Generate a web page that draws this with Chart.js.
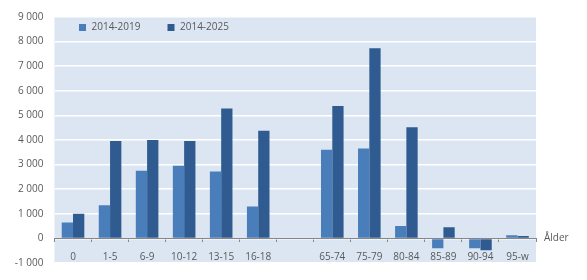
<!DOCTYPE html>
<html>
<head>
<meta charset="utf-8">
<script src="https://cdn.jsdelivr.net/npm/chart.js@4/dist/chart.umd.min.js"></script>
<style>
html,body{margin:0;padding:0;background:#fff;}
#wrap{width:587px;height:280px;position:relative;}
</style>
</head>
<body>
<div id="wrap"><canvas id="c" width="587" height="280"></canvas></div>
<script>
const categories = ['0','1-5','6-9','10-12','13-15','16-18','','65-74','75-79','80-84','85-89','90-94','95-w'];
const series2019 = [650,1350,2750,2950,2720,1300,null,3600,3650,500,-400,-400,130];
const series2025 = [1000,3960,4000,3960,5280,4380,null,5380,7730,4520,450,-480,100];
const seriesNames = ['2014-2019','2014-2025'];
const yTicks = [-1000,0,1000,2000,3000,4000,5000,6000,7000,8000,9000];
const axisTitle = 'Ålder';

const FONT = "'Open Sans', 'DejaVu Sans', sans-serif";
const TXT = '#595959';

function fmt(v){
  const s = Math.abs(v).toString().replace(/\B(?=(\d{3})+(?!\d))/g,' ');
  return (v<0?'-':'') + s;
}

const bgPlugin = {
  id:'plotBg',
  beforeDraw(chart){
    const {ctx, chartArea:a} = chart;
    ctx.save();
    ctx.fillStyle = '#dce6f2';
    ctx.fillRect(a.left, a.top, a.right-a.left, a.bottom-a.top);
    ctx.restore();
  },
  afterDraw(chart){
    const {ctx, chartArea:a} = chart;
    const y = chart.scales.y.getPixelForValue(0);
    ctx.save();
    ctx.fillStyle = TXT;
    ctx.font = '10px ' + FONT;
    ctx.textAlign = 'left';
    ctx.textBaseline = 'middle';
    ctx.fillText(axisTitle, a.right + 8, y);
    // inside legend
    let x = a.left + 24.5;
    const cy = a.top + 10.5;
    chart.data.datasets.forEach((ds) => {
      ctx.fillStyle = ds.backgroundColor;
      ctx.fillRect(x, cy - 3.5, 7, 7);
      ctx.fillStyle = TXT;
      ctx.fillText(ds.label, x + 12.5, cy);
      x += 88.5;
    });
    ctx.restore();
  }
};

new Chart(document.getElementById('c'), {
  type:'bar',
  data:{
    labels: categories,
    datasets:[
      {label: seriesNames[0], data: series2019, backgroundColor:'#4a7ebb', borderWidth:0},
      {label: seriesNames[1], data: series2025, backgroundColor:'#305b91', borderWidth:0}
    ]
  },
  options:{
    responsive:false,
    animation:false,
    devicePixelRatio:1,
    layout:{padding:{left:0, right:51, top:16.5, bottom:16.5}},
    datasets:{bar:{categoryPercentage:0.61, barPercentage:1}},
    plugins:{
      legend:{display:false},
      tooltip:{enabled:false}
    },
    scales:{
      x:{
        position:{y:0},
        offset:true,
        grid:{offset:true, display:true, drawOnChartArea:false, drawTicks:true, tickLength:3, color:'#868686', lineWidth:1},
        border:{display:true, color:'#868686', width:1},
        ticks:{color:TXT, font:{family:FONT, size:10}, padding:10, maxRotation:0, autoSkip:false}
      },
      y:{
        min:-1000, max:9000,
        afterFit(s){ s.width = 54.5; },
        afterBuildTicks(s){ s.ticks = yTicks.map(v=>({value:v})); },
        grid:{color:'#ffffff', lineWidth:1.5, drawTicks:false},
        border:{display:false},
        ticks:{color:TXT, font:{family:FONT, size:10}, padding:11, callback:(v)=>fmt(v)}
      }
    }
  },
  plugins:[bgPlugin]
});
</script>
</body>
</html>
